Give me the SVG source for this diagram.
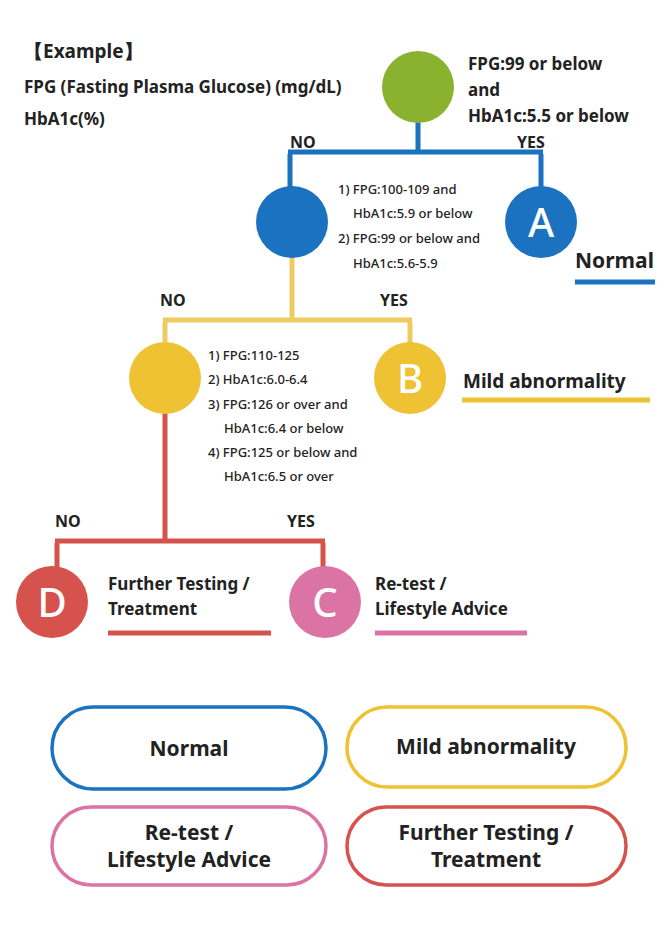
<svg xmlns="http://www.w3.org/2000/svg" width="670" height="926" viewBox="0 0 670 926">
<style>
text{font-family:"Noto Sans","Liberation Sans",sans-serif;font-weight:bold;fill:#222}
.t{font-size:17px}
.c{font-size:13px;font-weight:500}
.yn{font-size:16px}
.big{font-size:40px;fill:#fff;font-weight:500}
.ln{fill:none;stroke-width:5}
.box{fill:#fff;stroke-width:3.5}
.bx{font-size:21px;text-anchor:middle}
</style>
<rect width="670" height="926" fill="#fff"/>
<g id="header">
<text x="24" y="58" style="font-size:19px">【Example】</text>
<text x="24" y="93" class="t">FPG (Fasting Plasma Glucose) (mg/dL)</text>
<text x="24" y="125" class="t">HbA1c(%)</text>
</g>
<g id="connectors">
<path class="ln" stroke="#1b72c0" d="M418,120V152M290,154V190M541,154V190M288,152H543"/>
<path class="ln" stroke="#eecb60" d="M292,256V320M165,322V345M410,322V345M163,320H412"/>
<path class="ln" stroke="#d5524d" d="M165,412V541M57,543V570M323,543V570M55,541H325"/>
</g>
<g id="n0"><circle cx="418" cy="87" r="36" fill="#8bb22f"/>
<text x="468" y="70" class="t">FPG:99 or below</text><text x="468" y="96" class="t">and</text><text x="468" y="122" class="t">HbA1c:5.5 or below</text>
<text x="290" y="148" class="yn">NO</text><text x="517" y="148" class="yn">YES</text></g>
<g id="n1"><circle cx="292" cy="222" r="36" fill="#1b72c0"/>
<text x="338" y="194" class="c">1) FPG:100-109 and</text><text x="353" y="218" class="c">HbA1c:5.9 or below</text>
<text x="338" y="243" class="c">2) FPG:99 or below and</text><text x="353" y="268" class="c">HbA1c:5.6-5.9</text></g>
<g id="nA"><circle cx="541" cy="222" r="36" fill="#1b72c0"/><text x="541" y="237" class="big" text-anchor="middle">A</text>
<text x="575" y="268" style="font-size:21px">Normal</text><path class="ln" stroke="#1b72c0" d="M575,282H655"/></g>
<g id="n2"><circle cx="165" cy="378" r="36" fill="#eec232"/>
<text x="160" y="306" class="yn">NO</text><text x="380" y="306" class="yn">YES</text>
<text x="208" y="360" class="c">1) FPG:110-125</text><text x="208" y="384" class="c">2) HbA1c:6.0-6.4</text>
<text x="208" y="409" class="c">3) FPG:126 or over and</text><text x="224" y="433" class="c">HbA1c:6.4 or below</text>
<text x="208" y="457" class="c">4) FPG:125 or below and</text><text x="224" y="481" class="c">HbA1c:6.5 or over</text></g>
<g id="nB"><circle cx="410" cy="378" r="36" fill="#eec232"/><text x="410" y="393" class="big" text-anchor="middle">B</text>
<text x="463" y="388" style="font-size:19px">Mild abnormality</text><path class="ln" stroke="#eec232" d="M462,400H650"/></g>
<g id="nD"><circle cx="52" cy="602" r="36" fill="#d5524d"/><text x="52" y="617" class="big" text-anchor="middle">D</text>
<text x="55" y="527" class="yn">NO</text><text x="287" y="527" class="yn">YES</text>
<text x="108" y="590" class="t">Further Testing /</text><text x="108" y="615" class="t">Treatment</text>
<path class="ln" stroke="#d5524d" d="M108,633H271"/></g>
<g id="nC"><circle cx="325" cy="602" r="36" fill="#db73a5"/><text x="325" y="617" class="big" text-anchor="middle">C</text>
<text x="375" y="590" class="t">Re-test /</text><text x="375" y="615" class="t">Lifestyle Advice</text>
<path class="ln" stroke="#db73a5" d="M375,633H527"/></g>
<g id="legend-normal"><rect class="box" stroke="#1b72c0" x="52" y="707" width="274" height="82" rx="41"/><text class="bx" x="189" y="756">Normal</text></g>
<g id="legend-mild"><rect class="box" stroke="#eec232" x="347" y="707" width="279" height="80" rx="40"/><text class="bx" x="486" y="754">Mild abnormality</text></g>
<g id="legend-retest"><rect class="box" stroke="#db73a5" x="52" y="807" width="274" height="78" rx="39"/><text class="bx" x="189" y="840">Re-test /</text><text class="bx" x="189" y="867">Lifestyle Advice</text></g>
<g id="legend-further"><rect class="box" stroke="#d5524d" x="347" y="807" width="279" height="78" rx="39"/><text class="bx" x="486" y="840">Further Testing /</text><text class="bx" x="486" y="867">Treatment</text></g>
</svg>
